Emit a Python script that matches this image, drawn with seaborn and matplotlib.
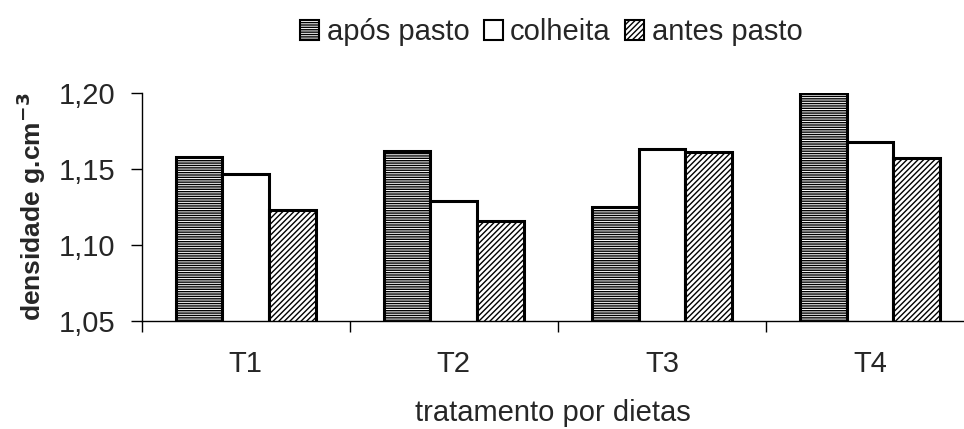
import numpy as np
import pandas as pd
import matplotlib
matplotlib.use("Agg")
import matplotlib.pyplot as plt
import seaborn as sns
from matplotlib.patches import Patch

tratamentos = ["T1", "T2", "T3", "T4"]
apos_pasto = [1.158, 1.162, 1.125, 1.200]
colheita = [1.147, 1.129, 1.163, 1.168]
antes_pasto = [1.123, 1.116, 1.161, 1.157]
series = ["após pasto", "colheita", "antes pasto"]
hatches = ["-------", "", "//////"]

df = pd.DataFrame({
    "tratamento": tratamentos * 3,
    "serie": [s for s in series for _ in tratamentos],
    "densidade": apos_pasto + colheita + antes_pasto,
})

sns.set_style("white")
plt.rcParams["font.family"] = ["Liberation Sans", "DejaVu Sans"]
plt.rcParams["hatch.linewidth"] = 1.0

fig = plt.figure(figsize=(9.64, 4.29), dpi=100)
ax = fig.add_axes([0.147, 0.252, 0.853, 0.531])

sns.barplot(data=df, x="tratamento", y="densidade", hue="serie", hue_order=series,
            order=tratamentos, palette=["white"] * 3, edgecolor="black",
            linewidth=2.2, width=0.673, ax=ax, legend=False)

# hatches per series (containers follow hue order)
for cont, h in zip(ax.containers, hatches):
    for bar in cont:
        bar.set_hatch(h)

ax.set_ylim(1.05, 1.20)
ax.set_xlim(-0.5, 3.452)
ax.set_yticks([1.05, 1.10, 1.15, 1.20])
ax.set_yticklabels(["1,05", "1,10", "1,15", "1,20"], fontsize=21)
ax.set_xticks(range(4))
ax.set_xticklabels(tratamentos, fontsize=21)
ax.set_xticks([-0.5, 0.5, 1.5, 2.5], minor=True)
ax.tick_params(axis="x", which="major", length=0, pad=21)
ax.tick_params(axis="x", which="minor", length=8, width=1, direction="out", color="black", bottom=True)
ax.tick_params(axis="y", length=8, width=1, direction="out", color="black", left=True, pad=11)

sns.despine(ax=ax, top=True, right=True)
for sp in ["left", "bottom"]:
    ax.spines[sp].set_color("black")
    ax.spines[sp].set_linewidth(1)

ax.set_xlabel("tratamento por dietas", fontsize=21, labelpad=15)
ax.set_ylabel("densidade g.cm$^{\\mathbf{-3}}$", fontsize=19, fontweight="bold", labelpad=8)

handles = [Patch(facecolor="white", edgecolor="black", hatch=h, linewidth=1.5) for h in hatches]
fig.legend(handles, series, loc="center", bbox_to_anchor=(0.572, 0.925), ncol=3,
           frameon=False, fontsize=21, handlelength=0.65, handleheight=0.65,
           handletextpad=0.25, columnspacing=0.5)

fig.savefig("out.png", dpi=100)
